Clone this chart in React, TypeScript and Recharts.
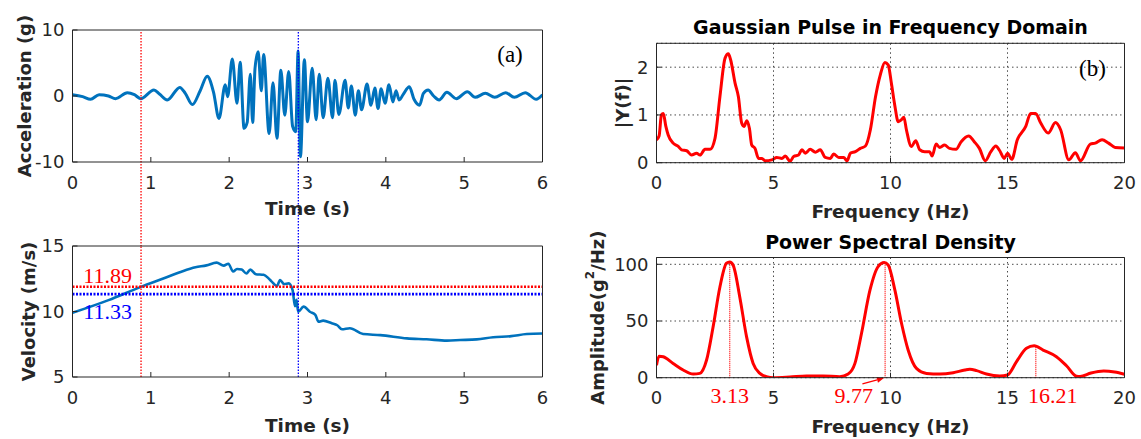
import React from "react";
import { LineChart, Line, XAxis, YAxis, CartesianGrid, ReferenceLine } from "recharts";

// (a) ground motion: acceleration (g) and velocity (m/s) against time (s)
const ACC_T = [0, 0.13, 0.23, 0.34, 0.46, 0.55, 0.7, 0.79, 0.87, 1.04, 1.11, 1.21, 1.37, 1.44, 1.53, 1.63, 1.72, 1.8, 1.87, 1.95, 1.98, 2.04, 2.1, 2.14, 2.19, 2.23, 2.27, 2.3, 2.33, 2.37, 2.41, 2.44, 2.51, 2.56, 2.61, 2.66, 2.71, 2.76, 2.81, 2.85, 2.88, 2.91, 2.96, 3.0, 3.06, 3.11, 3.15, 3.2, 3.26, 3.32, 3.35, 3.4, 3.48, 3.52, 3.56, 3.61, 3.65, 3.69, 3.76, 3.81, 3.86, 3.9, 3.94, 3.99, 4.04, 4.09, 4.13, 4.17, 4.22, 4.3, 4.36, 4.43, 4.48, 4.54, 4.61, 4.68, 4.78, 4.9, 5.04, 5.14, 5.27, 5.39, 5.53, 5.64, 5.78, 5.92, 6.0];
const ACC_G = [0.2, -0.1, -0.5, 0.2, 0.0, -0.4, 0.5, 0.2, -0.4, 0.9, 0.3, -0.6, 1.3, 0.4, -1.3, 0.8, 3.0, 0.6, -3.4, 1.7, -0.1, 5.6, -1.1, 5.1, -4.9, -4.0, 3.3, -4.0, 4.2, 6.7, 0.8, 6.3, -5.7, 2.0, -6.4, 3.9, -2.9, 3.7, -4.6, -5.4, 6.8, -9.2, 5.5, -3.9, 4.2, -3.6, 3.3, -3.3, 2.7, -3.3, 2.4, -2.8, 2.4, -1.8, 1.5, -2.9, 0.8, -2.1, 1.8, -1.4, 1.2, -1.9, 1.1, -1.1, 1.7, -0.9, 0.8, -0.6, 0.2, 1.4, -0.5, -1.4, 0.4, 0.9, 0.0, -0.6, 0.55, -0.4, 0.65, -0.2, 0.4, -0.2, 0.5, -0.2, 0.5, -0.5, 0.2];

const VEL_T = [0, 0.46, 0.88, 1.15, 1.39, 1.57, 1.71, 1.84, 1.93, 1.99, 2.05, 2.1, 2.16, 2.22, 2.27, 2.34, 2.44, 2.5, 2.54, 2.61, 2.65, 2.7, 2.76, 2.81, 2.84, 2.86, 2.88, 2.95, 3.03, 3.1, 3.14, 3.2, 3.31, 3.38, 3.44, 3.54, 3.71, 3.93, 4.27, 4.52, 4.78, 4.95, 5.16, 5.37, 5.6, 5.8, 6.0];
const VEL_MS = [9.9, 10.87, 11.9, 12.5, 13.04, 13.37, 13.52, 13.73, 13.5, 13.65, 13.05, 13.25, 13.2, 12.9, 13.2, 12.85, 12.8, 12.55, 12.3, 11.95, 12.4, 12.1, 12.15, 11.64, 10.4, 10.9, 9.98, 10.37, 9.98, 9.75, 9.22, 9.3, 9.1, 8.95, 8.64, 8.72, 8.28, 8.2, 7.95, 7.88, 7.78, 7.82, 7.87, 8.03, 8.12, 8.28, 8.32];

const T_RED = 0.875;
const T_BLUE = 2.883;
const V_RED = 11.89;
const V_BLUE = 11.33;

// (b) spectra
const FFT_F = [0, 0.11, 0.21, 0.29, 0.4, 0.5, 0.71, 0.93, 1.07, 1.29, 1.5, 1.71, 1.86, 2.07, 2.29, 2.5, 2.71, 2.93, 3.07, 3.17, 3.36, 3.5, 3.64, 3.74, 3.86, 3.97, 4.07, 4.21, 4.36, 4.5, 4.64, 4.93, 5.14, 5.36, 5.5, 5.71, 5.86, 6.07, 6.21, 6.36, 6.57, 6.79, 7.0, 7.21, 7.43, 7.57, 7.79, 8.0, 8.14, 8.29, 8.5, 8.71, 8.93, 9.14, 9.36, 9.57, 9.76, 9.9, 10.04, 10.18, 10.33, 10.47, 10.57, 10.68, 10.89, 11.08, 11.25, 11.46, 11.67, 11.78, 11.95, 12.1, 12.31, 12.52, 12.8, 13.02, 13.34, 13.58, 13.8, 14.05, 14.29, 14.5, 14.67, 14.86, 15.0, 15.18, 15.42, 15.78, 15.99, 16.2, 16.42, 16.74, 17.05, 17.27, 17.62, 17.9, 18.12, 18.54, 18.75, 19.04, 19.32, 19.6, 20.0];
const FFT_AMP = [0.48, 0.56, 1.0, 1.03, 0.76, 0.58, 0.41, 0.34, 0.27, 0.25, 0.16, 0.2, 0.16, 0.28, 0.28, 0.51, 1.38, 2.19, 2.28, 2.15, 1.66, 1.38, 0.83, 0.76, 0.88, 0.72, 0.37, 0.3, 0.09, 0.09, 0.04, 0.06, 0.11, 0.09, 0.14, 0.03, 0.13, 0.16, 0.27, 0.2, 0.28, 0.22, 0.27, 0.11, 0.09, 0.18, 0.11, 0.11, 0.04, 0.2, 0.23, 0.3, 0.35, 0.69, 1.38, 1.85, 2.1, 2.05, 1.66, 1.21, 0.86, 0.9, 0.95, 0.69, 0.34, 0.46, 0.27, 0.23, 0.23, 0.14, 0.39, 0.32, 0.37, 0.3, 0.28, 0.44, 0.56, 0.44, 0.3, 0.04, 0.23, 0.35, 0.25, 0.09, 0.2, 0.07, 0.48, 0.76, 1.03, 1.03, 0.83, 0.62, 0.84, 0.69, 0.06, 0.21, 0.04, 0.39, 0.41, 0.48, 0.41, 0.32, 0.31];

const PSD_F = [0, 0.11, 0.29, 0.71, 1.14, 1.57, 1.85, 2.14, 2.42, 2.71, 2.99, 3.13, 3.28, 3.56, 3.85, 4.13, 4.42, 4.7, 5.0, 5.7, 6.41, 7.12, 7.83, 8.19, 8.48, 8.76, 9.12, 9.47, 9.73, 9.9, 10.19, 10.47, 10.76, 11.11, 11.54, 12.11, 12.68, 13.18, 13.39, 13.68, 14.1, 14.67, 15.0, 15.38, 15.81, 16.14, 16.52, 17.09, 17.52, 17.95, 18.1, 18.57, 19.11, 19.58, 20.0];
const PSD_AMP = [11, 19, 18.5, 12.6, 6.8, 3.2, 3.8, 15.6, 45, 80, 100.9, 102, 99, 71, 36, 12.6, 3.8, 0.9, 0, 0.6, 1.5, 1.5, 0.9, 3.2, 12.6, 39, 77, 98, 101.5, 99.4, 77, 48, 24, 8.2, 3.8, 3.2, 4.4, 6.8, 7.4, 6.2, 3.2, 1.5, 2.4, 14, 26, 28.2, 24.4, 18.5, 10.5, 1.2, 1.0, 4.1, 5.9, 5.0, 3.0];

const PSD_PEAK_F = [3.13, 9.77, 16.21];
const PSD_PEAK_AMP = [102, 101.5, 28.2];
const PSD_PEAK_TEXT = ["3.13", "9.77", "16.21"];
const ARROW_FROM = { x: 8.8, y: -5.5 };
const ARROW_TO = { x: 9.72, y: -0.3 };

const TIME_TICKS = [0, 1, 2, 3, 4, 5, 6];
const ACC_TICKS = [-10, 0, 10];
const VEL_TICKS = [5, 10, 15];
const FREQ_TICKS = [0, 5, 10, 15, 20];
const FFT_TICKS = [0, 1, 2];
const PSD_TICKS = [0, 50, 100];

const AXIS = "#262626";
const BLUE = "#0072BD";
const RED = "#FF0000";
const SANS = "'DejaVu Sans', sans-serif";
const SERIF = "'Liberation Serif', serif";

const rows = (xs: number[], ys: number[]) => xs.map((x, i) => ({ x, y: ys[i] }));

// label renderers (recharts passes the axis / line viewBox)
const xTitle = (text: string, dy: number) => (p: any) => {
  const vb = p.viewBox;
  return (
    <text x={vb.x + vb.width / 2} y={vb.y + dy} textAnchor="middle" fontFamily={SANS} fontWeight="bold" fontSize={18.5} fill={AXIS}>
      {text}
    </text>
  );
};

const yTitle = (content: any, dx: number) => (p: any) => {
  const vb = p.viewBox;
  const cx = vb.x + vb.width + dx;
  const cy = vb.y + vb.height / 2;
  return (
    <text x={cx} y={cy} transform={`rotate(-90 ${cx} ${cy})`} textAnchor="middle" dominantBaseline="central" fontFamily={SANS} fontWeight="bold" fontSize={18} fill={AXIS}>
      {content}
    </text>
  );
};

const topTitle = (text: string, dy: number) => (p: any) => {
  const vb = p.viewBox;
  return (
    <text x={vb.x + vb.width / 2} y={vb.y + dy} textAnchor="middle" fontFamily={SANS} fontWeight="bold" fontSize={19} fill="#000">
      {text}
    </text>
  );
};

const tagLabel = (text: string, dx: number, dy: number) => (p: any) => {
  const vb = p.viewBox;
  return (
    <text x={vb.x + dx} y={vb.y + dy} textAnchor="middle" fontFamily={SERIF} fontSize={23} fill="#000">
      {text}
    </text>
  );
};

const lineText = (text: string, color: string, dx: number, dy: number, anchor = "start") => (p: any) => {
  const vb = p.viewBox;
  return (
    <text x={vb.x + dx} y={vb.y + vb.height + dy} textAnchor={anchor} fontFamily={SERIF} fontSize={22} fill={color}>
      {text}
    </text>
  );
};

// vertical marker that continues down into the panel below
const EXT = 84;
const longDrop = (color: string) => (p: any) => (
  <line x1={p.x1} x2={p.x2} y1={Math.min(p.y1, p.y2) + 2} y2={Math.max(p.y1, p.y2) + EXT} stroke={color} strokeWidth={1.3} strokeDasharray="1.5 1.5" />
);

const arrowShape = (p: any) => {
  const { x1, y1, x2, y2 } = p;
  const a = Math.atan2(y2 - y1, x2 - x1);
  const L = 7;
  const W = 3;
  const bx = x2 - L * Math.cos(a);
  const by = y2 - L * Math.sin(a);
  const pts = `${x2},${y2} ${bx - W * Math.sin(a)},${by + W * Math.cos(a)} ${bx + W * Math.sin(a)},${by - W * Math.cos(a)}`;
  return (
    <g>
      <line x1={x1} y1={y1} x2={bx} y2={by} stroke={RED} strokeWidth={1.2} />
      <polygon points={pts} fill={RED} />
    </g>
  );
};

const tickStyle = { fill: AXIS, fontSize: 18, fontFamily: SANS };

function Panel(props: any) {
  const { box, plot, data, xDomain, xTicks, yDomain, yTicks, color, lineWidth, grid, xLabel, yLabel, title, tag, children } = props;
  const margin = {
    top: plot.top - box.top,
    right: box.left + box.width - (plot.left + plot.width),
    bottom: 0,
    left: 0,
  };
  return (
    <div style={{ position: "absolute", left: box.left, top: box.top }}>
      <LineChart width={box.width} height={box.height} data={data} margin={margin}>
        {grid && <CartesianGrid stroke="#4a4a4a" strokeDasharray="1.5 3" />}
        <XAxis
          dataKey="x"
          type="number"
          domain={xDomain}
          ticks={xTicks}
          interval={0}
          allowDataOverflow
          height={box.top + box.height - (plot.top + plot.height)}
          stroke={AXIS}
          tickSize={-5}
          tickMargin={19}
          tick={tickStyle}
          label={xLabel}
        />
        <YAxis
          type="number"
          domain={yDomain}
          ticks={yTicks}
          interval={0}
          allowDataOverflow
          width={plot.left - box.left}
          stroke={AXIS}
          tickSize={-5}
          tickMargin={13}
          tick={tickStyle}
          label={yLabel}
        />
        <XAxis xAxisId="top" orientation="top" type="number" domain={xDomain} ticks={xTicks} interval={0} mirror height={1} tick={false} tickSize={5} stroke={AXIS} label={title} />
        <YAxis yAxisId="right" orientation="right" type="number" domain={yDomain} ticks={yTicks} interval={0} mirror width={1} tick={false} tickSize={5} stroke={AXIS} label={tag} />
        <Line dataKey="y" type="monotone" stroke={color} strokeWidth={lineWidth} dot={false} activeDot={false} isAnimationActive={false} />
        {children}
      </LineChart>
    </div>
  );
}

export default function App() {
  return (
    <div style={{ position: "absolute", left: 0, top: 0, width: 1141, height: 439, background: "#fff", overflow: "hidden" }}>
      <Panel
        box={{ left: 0, top: 0, width: 560, height: 246 }}
        plot={{ left: 72.5, top: 30, width: 470, height: 132 }}
        data={rows(ACC_T, ACC_G)}
        xDomain={[0, 6]}
        xTicks={TIME_TICKS}
        yDomain={[-10, 10]}
        yTicks={ACC_TICKS}
        color={BLUE}
        lineWidth={3}
        xLabel={xTitle("Time (s)", 53)}
        yLabel={yTitle("Acceleration (g)", -48)}
        tag={tagLabel("(a)", -31.5, 32)}
      >
        <ReferenceLine x={T_RED} stroke={RED} ifOverflow="visible" shape={longDrop(RED)} />
        <ReferenceLine x={T_BLUE} stroke="#0000FF" ifOverflow="visible" shape={longDrop("#0000FF")} />
      </Panel>

      <Panel
        box={{ left: 0, top: 236, width: 560, height: 203 }}
        plot={{ left: 72.5, top: 246, width: 470, height: 131 }}
        data={rows(VEL_T, VEL_MS)}
        xDomain={[0, 6]}
        xTicks={TIME_TICKS}
        yDomain={[5, 15]}
        yTicks={VEL_TICKS}
        color={BLUE}
        lineWidth={2.6}
        xLabel={xTitle("Time (s)", 55)}
        yLabel={yTitle("Velocity (m/s)", -44)}
      >
        <ReferenceLine x={T_RED} stroke={RED} strokeWidth={1.3} strokeDasharray="1.5 1.5" />
        <ReferenceLine x={T_BLUE} stroke="#0000FF" strokeWidth={1.3} strokeDasharray="1.5 1.5" />
        <ReferenceLine y={V_RED} stroke={RED} strokeWidth={2.6} strokeDasharray="2 1.5" label={lineText(V_RED.toFixed(2), RED, 10.8, -3.4)} />
        <ReferenceLine y={V_BLUE} stroke="#0000FF" strokeWidth={2.6} strokeDasharray="2 1.5" label={lineText(V_BLUE.toFixed(2), "#0000FF", 10.8, 25)} />
      </Panel>

      <Panel
        box={{ left: 570, top: 0, width: 571, height: 232 }}
        plot={{ left: 656.5, top: 43.3, width: 468, height: 119.4 }}
        data={rows(FFT_F, FFT_AMP)}
        xDomain={[0, 20]}
        xTicks={FREQ_TICKS}
        yDomain={[0, 2.5]}
        yTicks={FFT_TICKS}
        color={RED}
        lineWidth={3}
        grid
        xLabel={xTitle("Frequency (Hz)", 55)}
        yLabel={yTitle("|Y(f)|", -34)}
        title={topTitle("Gaussian Pulse in Frequency Domain", -9.5)}
        tag={tagLabel("(b)", -31, 33)}
      />

      <Panel
        box={{ left: 570, top: 216, width: 571, height: 223 }}
        plot={{ left: 656.5, top: 257.5, width: 468, height: 120.2 }}
        data={rows(PSD_F, PSD_AMP)}
        xDomain={[0, 20]}
        xTicks={FREQ_TICKS}
        yDomain={[0, 106]}
        yTicks={PSD_TICKS}
        color={RED}
        lineWidth={3}
        grid
        xLabel={xTitle("Frequency (Hz)", 55)}
        yLabel={yTitle(
          <>
            Amplitude(g<tspan fontSize={12} dy={-7}>2</tspan>
            <tspan dy={7}>/Hz)</tspan>
          </>,
          -59
        )}
        title={topTitle("Power Spectral Density", -8.5)}
      >
        {PSD_PEAK_F.map((f, i) => (
          <ReferenceLine
            key={f}
            segment={[{ x: f, y: 0 }, { x: f, y: PSD_PEAK_AMP[i] }]}
            stroke={RED}
            strokeWidth={1.2}
            strokeDasharray="1 1"
            label={lineText(PSD_PEAK_TEXT[i], RED, i === 0 ? 0 : i === 1 ? -12 : 17, 25.5, i === 1 ? "end" : "middle")}
          />
        ))}
        <ReferenceLine segment={[ARROW_FROM, ARROW_TO]} ifOverflow="visible" shape={arrowShape} />
      </Panel>
    </div>
  );
}
